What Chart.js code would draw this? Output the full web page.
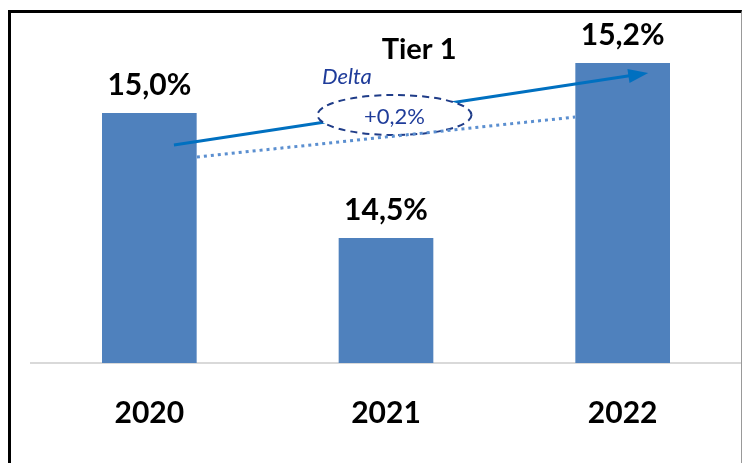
<!DOCTYPE html>
<html>
<head>
<meta charset="utf-8">
<script src="https://cdn.jsdelivr.net/npm/chart.js@4/dist/chart.umd.min.js"></script>
<style>
  html, body { margin: 0; padding: 0; background: #fff; }
  .frame {
    position: absolute; left: 8px; top: 10px;
    width: 730px; height: 453px;
    border-left: 3px solid #000; border-top: 3px solid #000; border-right: 1px solid #999;
  }
  #chart { display: block; }
</style>
</head>
<body>
<div class="frame"><canvas id="chart" width="730" height="450"></canvas></div>
<script>
"use strict";

// Bars
const years = ["2020", "2021", "2022"];
const tier1 = [15.0, 14.5, 15.2];
const title = "Tier 1";

// Delta annotation, in (category index, value) coordinates
const deltaText = "+0,2%";
const deltaLabel = "Delta";
const arrowFrom = [0.104, 14.872];
const arrowTo = [2.108, 15.16];
const trendFrom = [0.201, 14.824];
const trendTo = [1.799, 14.984];
const ovalCenter = [1.036, 14.992];
const deltaLabelAt = [0.835, 15.144];
const titleAt = [1.14, 15.252];

const FONT = "Lato, 'Open Sans', sans-serif";
const pct = (v) => v.toFixed(1).replace(".", ",") + "%";

const overlay = {
  id: "overlay",
  afterDatasetsDraw(c) {
    const ctx = c.ctx;
    const xs = c.scales.x, ys = c.scales.y;
    const px = (p) => [xs.getPixelForValue(p[0]), ys.getPixelForValue(p[1])];
    ctx.save();

    // value labels above bars
    ctx.font = `bold 30px ${FONT}`;
    ctx.fillStyle = "#000";
    ctx.textAlign = "center";
    ctx.textBaseline = "alphabetic";
    c.getDatasetMeta(0).data.forEach((bar, i) => {
      ctx.fillText(pct(tier1[i]), bar.x, bar.y - 18);
    });

    // title
    const [tx, ty] = px(titleAt);
    ctx.font = `bold 29px ${FONT}`;
    ctx.textBaseline = "middle";
    ctx.fillText(title, tx, ty);

    // arrow
    const [ax, ay] = px(arrowFrom);
    const [bx, by] = px(arrowTo);
    const ang = Math.atan2(by - ay, bx - ax);
    ctx.strokeStyle = "#0070c0";
    ctx.fillStyle = "#0070c0";
    ctx.lineWidth = 3;
    ctx.beginPath();
    ctx.moveTo(ax, ay);
    ctx.lineTo(bx - 14 * Math.cos(ang), by - 14 * Math.sin(ang));
    ctx.stroke();
    ctx.beginPath();
    ctx.moveTo(bx, by);
    ctx.lineTo(bx - 20 * Math.cos(ang) + 7 * Math.sin(ang), by - 20 * Math.sin(ang) - 7 * Math.cos(ang));
    ctx.lineTo(bx - 20 * Math.cos(ang) - 7 * Math.sin(ang), by - 20 * Math.sin(ang) + 7 * Math.cos(ang));
    ctx.closePath();
    ctx.fill();

    // oval
    const [ox, oy] = px(ovalCenter);
    ctx.beginPath();
    ctx.ellipse(ox, oy, 77, 20, 0, 0, Math.PI * 2);
    ctx.fillStyle = "#fff";
    ctx.fill();
    ctx.setLineDash([7, 5]);
    ctx.lineWidth = 2;
    ctx.strokeStyle = "#1f3c88";
    ctx.stroke();

    // dotted trend line
    const [dx1, dy1] = px(trendFrom);
    const [dx2, dy2] = px(trendTo);
    ctx.setLineDash([3, 4]);
    ctx.lineWidth = 3;
    ctx.strokeStyle = "#5b8fd0";
    ctx.beginPath();
    ctx.moveTo(dx1, dy1);
    ctx.lineTo(dx2, dy2);
    ctx.stroke();
    ctx.setLineDash([]);

    // delta texts
    ctx.fillStyle = "#1f3c9a";
    ctx.font = `22px ${FONT}`;
    ctx.fillText(deltaText, ox, oy + 2);
    const [lx, ly] = px(deltaLabelAt);
    ctx.font = `italic 22px ${FONT}`;
    ctx.fillText(deltaLabel, lx, ly);

    ctx.restore();
  },
};

function draw() {
  new Chart(document.getElementById("chart"), {
    type: "bar",
    data: {
      labels: years,
      datasets: [{
        data: tier1,
        backgroundColor: "#4f81bd",
        borderWidth: 0,
        categoryPercentage: 1,
        barPercentage: 0.4,
      }],
    },
    options: {
      responsive: false,
      animation: false,
      layout: { padding: { left: 20, right: 0, top: 0, bottom: 0 } },
      plugins: { legend: { display: false }, tooltip: { enabled: false } },
      scales: {
        x: {
          grid: { display: false },
          border: { display: true, color: "#d9d9d9", width: 2 },
          ticks: { color: "#000", padding: 24, font: { family: FONT, size: 30, weight: "bold" } },
          afterFit: (s) => { s.height = 100; },
        },
        y: { display: false, min: 14.0, max: 15.4 },
      },
    },
    plugins: [overlay],
  });
}

Promise.all([
  document.fonts.load(`bold 30px Lato`),
  document.fonts.load(`22px Lato`),
  document.fonts.load(`italic 22px Lato`),
]).then(draw, draw);
</script>
</body>
</html>
